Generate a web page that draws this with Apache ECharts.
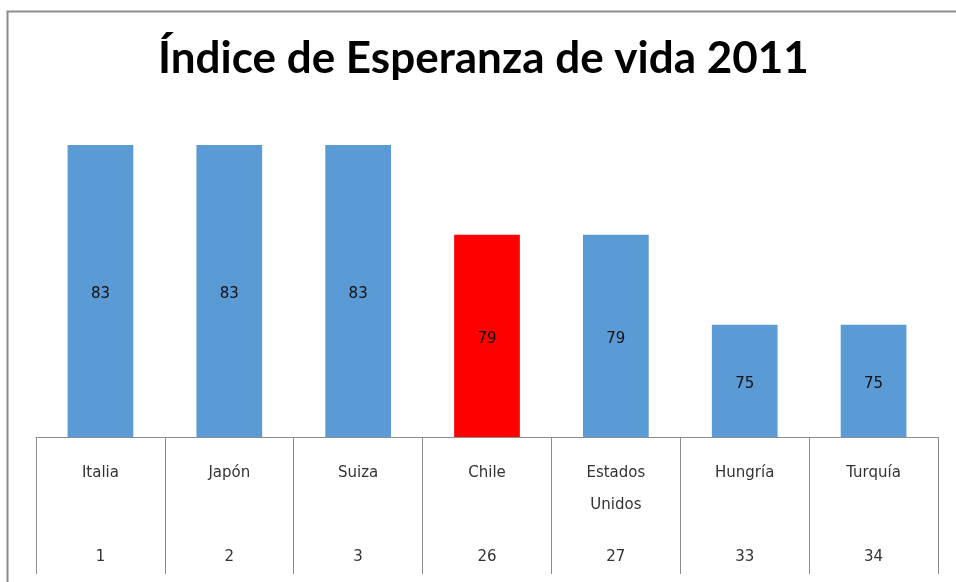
<!DOCTYPE html>
<html>
<head>
<meta charset="utf-8">
<script src="https://cdn.jsdelivr.net/npm/echarts@6/dist/echarts.min.js"></script>
<style>
  html, body { margin: 0; padding: 0; background: #fff; }
  #main { width: 956px; height: 582px; }
</style>
</head>
<body>
<div id="main"></div>
<script>
// datos
var paises = ['Italia', 'Japón', 'Suiza', 'Chile', 'Estados Unidos', 'Hungría', 'Turquía'];
var ranking = [1, 2, 3, 26, 27, 33, 34];
var esperanza = [83, 83, 83, 79, 79, 75, 75];
var destacado = 'Chile';

var chart = echarts.init(document.getElementById('main'));

var option = {
  backgroundColor: '#fff',
  title: {
    text: 'Índice de Esperanza de vida 2011',
    left: 153,
    top: 32,
    textStyle: {
      fontFamily: 'Lato',
      fontWeight: 'bold',
      fontSize: 44,
      color: '#000'
    }
  },
  grid: {
    left: 36,
    right: 18,
    top: 100,
    bottom: 145
  },
  xAxis: {
    type: 'category',
    data: paises,
    axisLine: { lineStyle: { color: '#8c8c8c', width: 1 } },
    axisTick: { show: true, length: 137, lineStyle: { color: '#8c8c8c', width: 1 } },
    axisLabel: {
      margin: 22,
      fontFamily: 'DejaVu Sans',
      fontSize: 15,
      color: '#333',
      formatter: function (val, i) {
        var partes = val.split(' ');
        if (partes.length > 1) {
          // nombre en dos líneas, como en Excel
          return '{a|' + partes[0] + '}\n{b|' + partes[1] + '}\n{c|}\n{a|' + ranking[i] + '}';
        }
        return '{a|' + val + '}\n{a|}\n{a|}\n{a|' + ranking[i] + '}';
      },
      rich: {
        a: { lineHeight: 28, fontSize: 15, fontFamily: 'DejaVu Sans', color: '#333' },
        b: { lineHeight: 36, fontSize: 15, fontFamily: 'DejaVu Sans', color: '#333' },
        c: { lineHeight: 20, fontSize: 15 }
      }
    }
  },
  yAxis: {
    type: 'value',
    min: 70,
    max: 85,
    show: false,
    splitLine: { show: false }
  },
  series: [{
    type: 'bar',
    barWidth: '51%',
    data: esperanza.map(function (v, i) {
      return {
        value: v,
        itemStyle: { color: paises[i] === destacado ? '#ff0000' : '#5b9bd5' }
      };
    }),
    label: {
      show: true,
      position: 'inside',
      offset: [0, 3],
      fontFamily: 'DejaVu Sans',
      fontSize: 15,
      color: '#111'
    }
  }],
  graphic: [{
    type: 'polyline',
    shape: { points: [[7.5, 582], [7.5, 11.5], [956, 11.5]] },
    style: { stroke: '#8c8c8c', lineWidth: 2, fill: null }
  }]
};

chart.setOption(option);
</script>
</body>
</html>
